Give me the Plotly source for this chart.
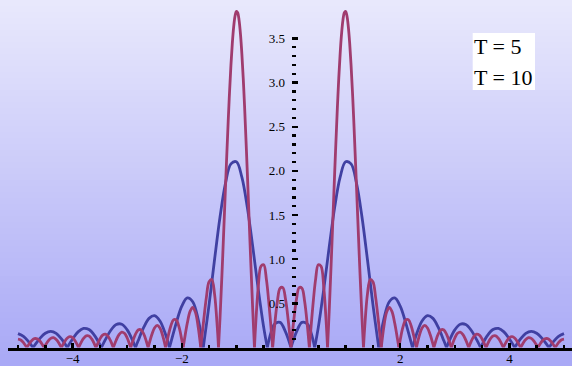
import plotly.graph_objects as go

# ---- data (w >= 0; the curves are mirror-symmetric about w = 0) ----
w_T10 = [0, 0.05, 0.1, 0.15, 0.2, 0.25, 0.3, 0.3356, 0.35, 0.4, 0.45, 0.5, 0.55, 0.6, 0.65, 0.6693,
         0.7, 0.75, 0.8, 0.85, 0.875, 0.9, 0.925, 0.95, 0.975, 1.0, 1.025, 1.05, 1.075, 1.1, 1.125,
         1.15, 1.2, 1.25, 1.3, 1.3277, 1.35, 1.4, 1.45, 1.5, 1.55, 1.6, 1.65, 1.6528, 1.7, 1.75,
         1.8, 1.85, 1.9, 1.95, 1.9758, 2.0, 2.05, 2.1, 2.15, 2.2, 2.25, 2.2971, 2.3, 2.35, 2.4,
         2.45, 2.5, 2.55, 2.6, 2.6171, 2.65, 2.7, 2.75, 2.8, 2.85, 2.9, 2.9362, 2.95, 3.0, 3.05,
         3.1, 3.15, 3.2, 3.25, 3.2544, 3.3, 3.35, 3.4, 3.45, 3.5, 3.55, 3.5721, 3.6, 3.65, 3.7,
         3.75, 3.8, 3.85, 3.8892, 3.9, 3.95, 4.0, 4.05, 4.1, 4.15, 4.2, 4.206, 4.25, 4.3, 4.35,
         4.4, 4.45, 4.5, 4.5224, 4.55, 4.6, 4.65, 4.7, 4.75, 4.8, 4.8386, 4.85, 4.9, 4.95, 5.0]
y_T10 = [0, 0.3027, 0.5454, 0.6785, 0.6718, 0.5201, 0.2455, 0, 0.1055, 0.4681, 0.7690, 0.9381,
         0.9198, 0.6830, 0.2277, 0, 0.4133, 1.1774, 1.9802, 2.7268, 3.0499, 3.3255, 3.5450,
         3.7014, 3.7897, 3.8073, 3.7538, 3.6313, 3.4439, 3.1980, 2.9020, 2.5654, 1.8154, 1.0414,
         0.3344, 0, 0.2304, 0.6043, 0.7703, 0.7440, 0.5679, 0.3028, 0.0154, 0, 0.2331, 0.3975,
         0.4548, 0.4061, 0.2740, 0.0957, 0, 0.0856, 0.2305, 0.3107, 0.3143, 0.2471, 0.1297, 0,
         0.0081, 0.1338, 0.2202, 0.2506, 0.2218, 0.1441, 0.0381, 0, 0.0703, 0.1562, 0.2014,
         0.1976, 0.1483, 0.0671, 0, 0.0256, 0.1078, 0.1611, 0.1744, 0.1464, 0.0855, 0.0071, 0,
         0.0696, 0.1269, 0.1521, 0.1407, 0.0966, 0.0314, 0, 0.0388, 0.0973, 0.1308, 0.1323,
         0.1025, 0.0494, 0, 0.0136, 0.0714, 0.1105, 0.1221, 0.1044, 0.0625, 0.0070, 0, 0.0486,
         0.0911, 0.1107, 0.1034, 0.0717, 0.0237, 0, 0.0286, 0.0728, 0.0984, 0.0999, 0.0775,
         0.0372, 0, 0.0111, 0.0555, 0.0857, 0.0946]

w_T5 = [0, 0.1, 0.2, 0.3, 0.4, 0.4338, 0.5, 0.6, 0.7, 0.8, 0.9, 1.0, 1.1, 1.2, 1.3, 1.4, 1.5,
        1.6, 1.6072, 1.7, 1.8, 1.9, 2.0, 2.1, 2.2, 2.2255, 2.3, 2.4, 2.5, 2.6, 2.7, 2.8, 2.8481,
        2.9, 3.0, 3.1, 3.2, 3.3, 3.4, 3.4728, 3.5, 3.6, 3.7, 3.8, 3.9, 4.0, 4.0985, 4.1, 4.2,
        4.3, 4.4, 4.5, 4.6, 4.7, 4.7249, 4.8, 4.9, 5.0]
y_T5 = [0, 0.1774, 0.2845, 0.2659, 0.0934, 0, 0.2280, 0.6602, 1.1391, 1.5872, 1.9284, 2.1032,
        2.0798, 1.8598, 1.4783, 0.9961, 0.4881, 0.0294, 0, 0.3187, 0.5186, 0.5619, 0.4690,
        0.2825, 0.0570, 0, 0.1521, 0.3000, 0.3607, 0.3299, 0.2243, 0.0756, 0, 0.0777, 0.1996,
        0.2641, 0.2608, 0.1956, 0.0884, 0, 0.0326, 0.1379, 0.2035, 0.2164, 0.1768, 0.0970, 0,
        0.0015, 0.0944, 0.1598, 0.1835, 0.1619, 0.1025, 0.0213, 0, 0.0614, 0.1256, 0.1568]

series_names = ["T = 5", "T = 10"]
x_tick_vals = [-4, -2, 2, 4]
x_tick_text = ["\u22124", "\u22122", "2", "4"]
x_minor_vals = [-5, -4.5, -3.5, -3, -2.5, -1.5, -1, -0.5, 0.5, 1, 1.5, 2.5, 3, 3.5, 4.5, 5]
y_tick_vals = [0.5, 1.0, 1.5, 2.0, 2.5, 3.0, 3.5]
y_tick_text = ["0.5", "1.0", "1.5", "2.0", "2.5", "3.0", "3.5"]
y_minor_vals = [0.1, 0.2, 0.3, 0.4, 0.6, 0.7, 0.8, 0.9, 1.1, 1.2, 1.3, 1.4, 1.6, 1.7, 1.8, 1.9,
                2.1, 2.2, 2.3, 2.4, 2.6, 2.7, 2.8, 2.9, 3.1, 3.2, 3.3, 3.4]


def mirror(w, y):
    xs = [-v for v in reversed(w[1:])] + list(w)
    ys = list(reversed(y[1:])) + list(y)
    return xs, ys


def split_lobes(xs, ys):
    """Break the polyline at its zeros so each lobe is smoothed on its own (keeps cusps sharp)."""
    ox, oy = [], []
    n = len(xs)
    for i, (a, b) in enumerate(zip(xs, ys)):
        ox.append(a)
        oy.append(b)
        if b == 0 and 0 < i < n - 1:
            ox.extend([None, a])
            oy.extend([None, b])
    return ox, oy


# ---- geometry ----
W, H = 572, 366
ML = 8
X_ZERO_PX = 291.0
X_SCALE = 54.6
Y_ZERO_PX = 347.5
Y_SCALE = 88.3
plot_w = W - ML
x_range = [(ML - X_ZERO_PX) / X_SCALE, (W - X_ZERO_PX) / X_SCALE]
y_dom0 = (H - Y_ZERO_PX) / H
y_range = [0, Y_ZERO_PX / Y_SCALE]
yaxis_pos = (X_ZERO_PX - ML) / plot_w

FONT = "Liberation Serif, Times New Roman, serif"
BLUE = "#4040a2"
RED = "#a03c6e"

fig = go.Figure()
x5, y5 = split_lobes(*mirror(w_T5, y_T5))
x10, y10 = split_lobes(*mirror(w_T10, y_T10))
fig.add_trace(go.Scatter(x=x5, y=y5, mode="lines", name=series_names[0], connectgaps=False,
                         line=dict(color=BLUE, width=2.8, shape="spline", smoothing=1),
                         hoverinfo="skip"))
fig.add_trace(go.Scatter(x=x10, y=y10, mode="lines", name=series_names[1], connectgaps=False,
                         line=dict(color=RED, width=2.8, shape="spline", smoothing=1),
                         hoverinfo="skip"))

# background gradient bands
shapes = []
N = 61
top = (233, 233, 252)
bot = (168, 168, 246)
for i in range(N):
    t = (i + 0.5) / N
    c = tuple(round(top[k] + (bot[k] - top[k]) * t) for k in range(3))
    shapes.append(dict(type="rect", xref="paper", yref="paper",
                       x0=-0.05, x1=1.05, y0=1 - (i + 1) / N - 0.002, y1=1 - i / N,
                       fillcolor="rgb(%d,%d,%d)" % c, line=dict(width=0), layer="below"))


def px_x(p):
    return (p - ML) / plot_w


def px_y(p):
    return 1 - p / H


# legend box
shapes.append(dict(type="rect", xref="paper", yref="paper",
                   x0=px_x(472.7), x1=px_x(535), y0=px_y(90), y1=px_y(33),
                   fillcolor="white", line=dict(width=0), layer="below"))

annotations = [
    dict(text=series_names[0], xref="paper", yref="paper", x=px_x(472), y=px_y(46),
         xanchor="left", yanchor="middle", showarrow=False,
         font=dict(family=FONT, size=22, color="black")),
    dict(text=series_names[1], xref="paper", yref="paper", x=px_x(472), y=px_y(77),
         xanchor="left", yanchor="middle", showarrow=False,
         font=dict(family=FONT, size=22, color="black")),
]

fig.update_layout(
    template="none",
    width=W, height=H,
    margin=dict(l=ML, r=0, t=0, b=0, pad=0, autoexpand=False),
    paper_bgcolor="rgb(200,200,249)",
    plot_bgcolor="rgba(0,0,0,0)",
    showlegend=False,
    shapes=shapes,
    annotations=annotations,
    xaxis=dict(range=x_range, showgrid=False, zeroline=False, automargin=False,
               showline=True, linecolor="black", linewidth=3,
               tickmode="array", tickvals=x_tick_vals, ticktext=x_tick_text,
               ticks="inside", ticklen=5, tickwidth=2.5, tickcolor="black",
               minor=dict(tickmode="array", tickvals=x_minor_vals, ticks="inside",
                          ticklen=2.5, tickwidth=2.5, tickcolor="black", showgrid=False),
               tickfont=dict(family=FONT, size=13, color="black"),
               ticklabelstandoff=-3,
               fixedrange=True),
    yaxis=dict(range=y_range, domain=[y_dom0, 1], anchor="free", position=yaxis_pos,
               showgrid=False, zeroline=False, showline=False, automargin=False,
               tickmode="array", tickvals=y_tick_vals, ticktext=y_tick_text,
               ticks="inside", ticklen=5.5, tickwidth=2.5, tickcolor="black",
               minor=dict(tickmode="array", tickvals=y_minor_vals, ticks="inside",
                          ticklen=3.5, tickwidth=2.3, tickcolor="black", showgrid=False),
               tickfont=dict(family=FONT, size=13, color="black"),
               ticklabelstandoff=6,
               fixedrange=True),
)

# the page's default 8px body margin would offset the figure inside the window
fig.write_html("out.html", config={"displayModeBar": False, "staticPlot": True},
               post_script="document.body.style.margin='0';document.body.style.overflow='hidden';")
